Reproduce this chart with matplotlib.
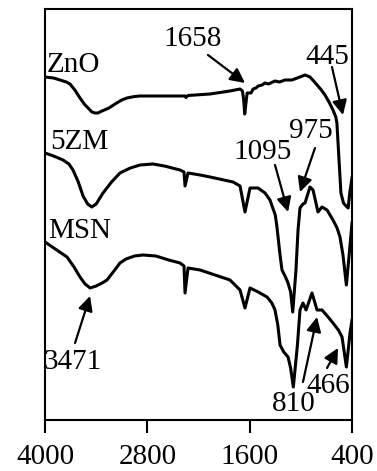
import matplotlib
matplotlib.use("Agg")
import matplotlib.pyplot as plt

plt.rcParams["font.family"] = ["Liberation Serif", "DejaVu Serif"]

# FTIR spectra, wavenumber (cm-1) vs offset transmittance (a.u.)
zno_wn = [4000, 3900, 3824, 3750, 3707, 3650, 3590, 3540, 3496, 3450, 3414, 3380, 3332, 3250,
          3179, 3100, 3038, 2950, 2886, 2651, 2358, 2347, 2323,
          2065, 1831, 1713, 1685, 1670, 1658, 1645, 1630, 1584, 1560, 1526, 1500, 1455, 1420,
          1380, 1303, 1250, 1186, 1104, 1010, 951, 893, 850, 799, 760, 717, 670, 623, 590, 577,
          559, 530, 500, 470, 445, 425, 400]
zno_t = [343, 342, 340, 338, 336, 330, 322, 316, 312, 308, 307, 307, 309, 312,
         316, 320, 322, 323.5, 324, 324, 324, 322.5, 324.5,
         326, 329, 331, 329, 320, 306, 316, 327, 327, 331, 332, 334, 335, 337,
         336, 339, 338, 340, 340, 343, 345, 343, 339, 334, 330, 325, 318, 310, 303, 297,
         270, 227, 217, 214, 212, 228, 242]

zm_wn = [4000, 3900, 3789, 3720, 3672, 3610, 3554, 3500, 3452, 3400, 3320, 3220, 3121, 3000,
         2886, 2734, 2600, 2417, 2370, 2358, 2323, 2182,
         2065, 1795, 1713, 1655, 1596, 1502, 1420, 1362, 1300, 1280, 1244, 1221, 1180, 1150,
         1120, 1095, 1057, 1033, 1010, 975, 951, 893, 857, 799, 752, 693, 623, 575, 541, 506,
         466, 423, 400]
zm_t = [267, 264, 260, 256, 250, 238, 224, 216, 213, 216, 227, 238, 247, 252,
        255, 256, 254, 250, 248, 234, 247, 245,
        243, 238, 234, 208, 232, 232, 227, 220, 205, 193, 165, 150, 143, 137,
        128, 108, 150, 190, 212, 216, 217, 233, 230, 208, 213, 210, 200, 192, 183, 165,
        135, 175, 197]

msn_wn = [4000, 3880, 3742, 3660, 3590, 3530, 3471, 3400, 3330, 3273, 3200, 3121, 3050, 2950,
          2851, 2700, 2550, 2417, 2370, 2358, 2323, 2182, 1831, 1713,
          1655, 1596, 1500, 1397, 1340, 1303, 1270, 1244, 1200, 1150, 1120, 1088, 1040, 1010,
          975, 939, 869, 810, 752, 690, 623, 560, 517, 466, 423, 400]
msn_t = [178, 171, 163, 153, 143, 136, 132, 134, 137, 140, 148, 157, 161, 164,
         165, 164, 160, 157, 154, 127, 152, 150, 140, 130,
         112, 132, 128, 123, 117, 110, 95, 75, 68, 63, 52, 33, 75, 110,
         117, 110, 127, 110, 110, 104, 97, 90, 83, 53, 87, 100]

names = ["ZnO", "5ZM", "MSN"]
name_pos = [(3977, 355), (3941, 278), (3965, 189)]

peak_labels = ["1658", "445", "975", "1095", "3471", "810", "466"]
label_pos = [(2265, 381), (693, 363), (881, 289), (1444, 268), (3672, 58), (1080, 16), (681, 34)]
arrow_tail = [(2089, 365), (635, 353), (834, 272), (1303, 255), (3648, 77), (975, 38), (693, 52)]
arrow_tip = [(1655, 337), (506, 305), (1010, 228), (1150, 208), (3472, 124), (810, 103), (564, 72)]

fig = plt.figure(figsize=(3.77, 4.71), dpi=100)
ax = fig.add_axes([0.1194, 0.1083, 0.8143, 0.8726])

for wn, t in [(zno_wn, zno_t), (zm_wn, zm_t), (msn_wn, msn_t)]:
    ax.plot(wn, t, color="black", lw=2.2, solid_joinstyle="round")

for name, (x, y) in zip(names, name_pos):
    ax.text(x, y, name, fontsize=21, ha="left", va="center")

for lab, (x, y) in zip(peak_labels, label_pos):
    ax.text(x, y, lab, fontsize=21, ha="center", va="center")

for tail, tip in zip(arrow_tail, arrow_tip):
    ax.annotate("", xy=tip, xytext=tail,
                arrowprops=dict(arrowstyle="-|>", mutation_scale=22, lw=1.6,
                                color="black", shrinkA=0, shrinkB=0))

ax.set_xlim(4000, 400)
ax.set_ylim(0, 411)
ax.set_xticks([4000, 2800, 1600, 400])
ax.set_yticks([])
ax.tick_params(axis="x", direction="out", length=9, width=1.5, labelsize=21, pad=8)
for sp in ax.spines.values():
    sp.set_linewidth(1.5)

fig.savefig("out.png", dpi=100)
